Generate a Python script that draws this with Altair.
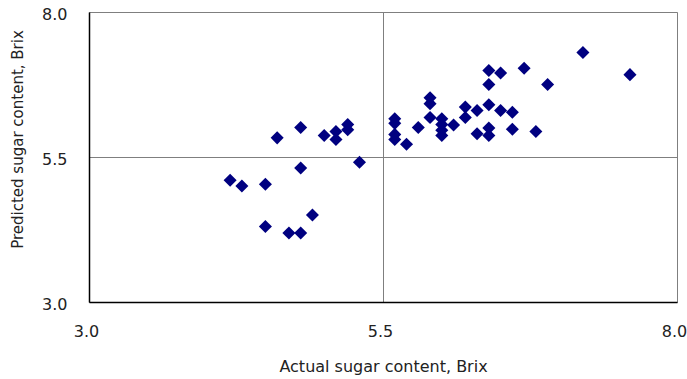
import altair as alt
import pandas as pd

# Actual vs. predicted sugar content (Brix)
actual = [
    4.2, 4.3, 4.5, 4.5, 4.7, 4.8, 4.9, 4.8, 4.6, 4.8, 5.0, 5.1, 5.1, 5.2, 5.2, 5.3,
    5.6, 5.6, 5.6, 5.6, 5.7, 5.8, 5.9, 5.9, 5.9, 6.0, 6.0, 6.0, 6.0, 6.1, 6.2, 6.2,
    6.3, 6.3, 6.4, 6.4, 6.4, 6.4, 6.4, 6.5, 6.5, 6.6, 6.6, 6.7, 6.8, 6.9, 7.2, 7.6,
]
predicted = [
    5.1, 5.0, 5.03, 4.3, 4.19, 4.19, 4.5, 5.31, 5.83, 6.01, 5.87, 5.94, 5.8, 6.06, 5.97, 5.41,
    6.16, 6.08, 5.89, 5.8, 5.72, 6.01, 6.52, 6.42, 6.18, 6.16, 6.06, 5.96, 5.87, 6.05, 6.36, 6.18,
    6.3, 5.9, 6.4, 6.0, 5.87, 6.75, 6.99, 6.95, 6.3, 6.27, 5.98, 7.03, 5.94, 6.75, 7.3, 6.92,
]
ticks = [3.0, 5.5, 8.0]

df = pd.DataFrame({"actual": actual, "predicted": predicted})

font = "DejaVu Sans"

points = alt.Chart(df).mark_point(
    shape="diamond", filled=True, size=170, color="#000080", opacity=1
).encode(
    x=alt.X(
        "actual:Q",
        scale=alt.Scale(domain=[3, 8], nice=False, zero=False),
        axis=alt.Axis(
            values=ticks, format=".1f", title="Actual sugar content, Brix",
            ticks=False, grid=True, gridColor="#7f7f7f", gridWidth=1,
            domainColor="#000000", domainWidth=1.5,
            labelFont=font, labelFontSize=16, labelColor="#222222",
            labelPadding=21, labelFlush=False, labelOffset=-3,
            titleFont=font, titleFontSize=16, titleFontWeight="normal",
            titleColor="#222222", titlePadding=19,
        ),
    ),
    y=alt.Y(
        "predicted:Q",
        scale=alt.Scale(domain=[3, 8], nice=False, zero=False),
        axis=alt.Axis(
            values=ticks, format=".1f", title="Predicted sugar content, Brix",
            ticks=False, grid=True, gridColor="#7f7f7f", gridWidth=1,
            domainColor="#000000", domainWidth=1.5,
            labelFont=font, labelFontSize=16, labelColor="#222222",
            labelPadding=22, labelFlush=False, labelOffset=2,
            titleFont=font, titleFontSize=15, titleFontWeight="normal",
            titleColor="#222222", titleX=-72, titleY=127,
            titleBaseline="middle", titleAngle=270,
        ),
    ),
)

chart = points.properties(
    width=588,
    height=290,
    autosize=alt.AutoSizeParams(type="none"),
    padding={"left": 89, "top": 12, "right": 10, "bottom": 77},
).configure_view(
    stroke="#7f7f7f", strokeWidth=1
).configure(background="white")

chart.save("out.html", embed_options={"renderer": "svg", "actions": False})
